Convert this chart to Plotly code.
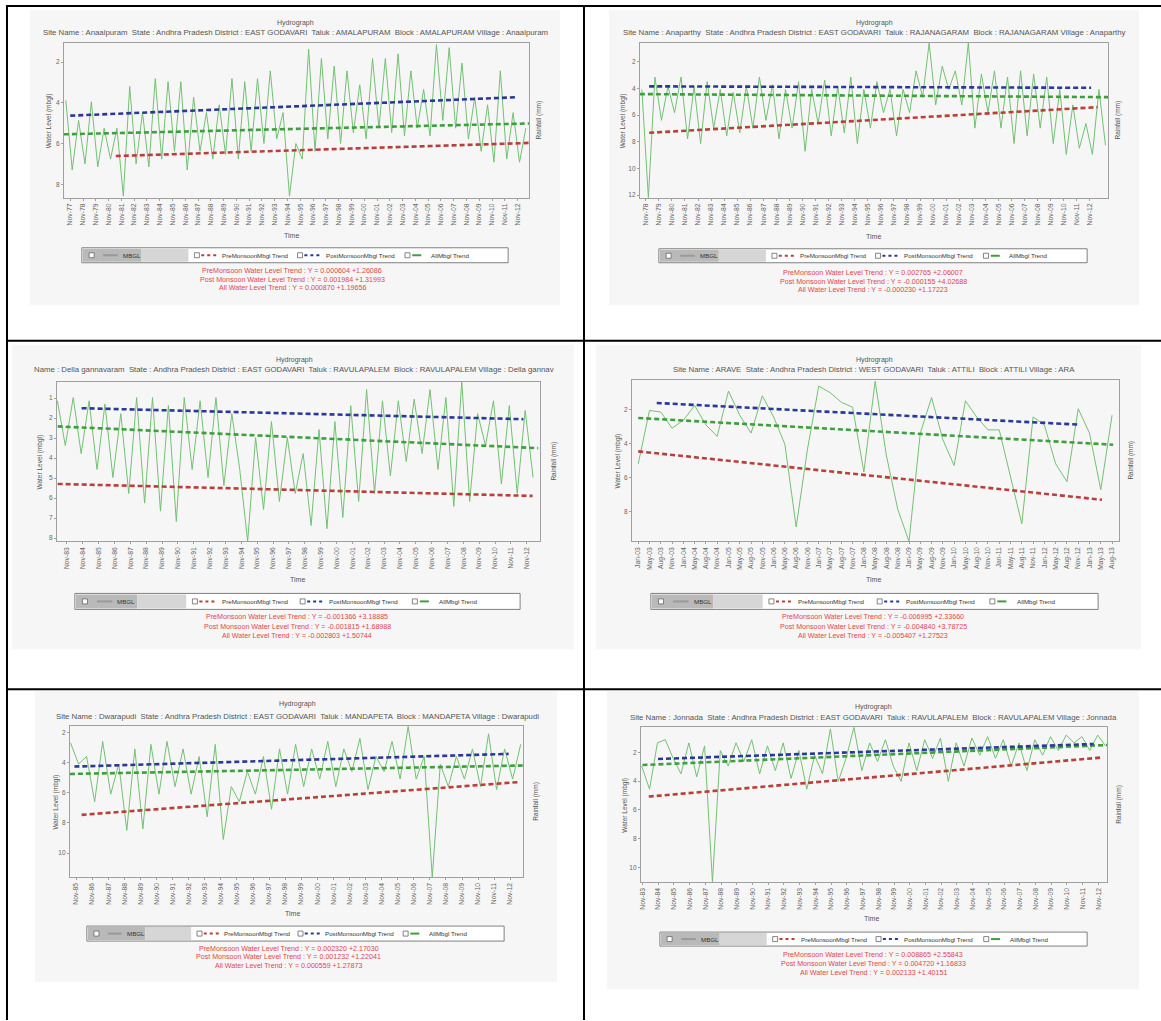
import plotly.graph_objects as go

W, H = 1161, 1021

# ------------------------------------------------------------------ data
p1_ticks = ["Nov-%02d" % (y % 100) for y in range(1977, 2013)]
p1_x0, p1_step = -0.35, 0.5
p1_mbgl = [3.87, 7.27, 4.85, 6.97, 3.94, 7.12, 5.23, 6.74, 5.23, 8.55,
           3.19, 6.97, 4.47, 7.12, 2.81, 6.74, 2.96, 6.36, 2.96, 7.27,
           3.72, 6.36, 4.47, 6.74, 4.09, 6.51, 2.81, 6.74, 2.96, 6.36,
           2.81, 5.98, 2.43, 5.76, 4.47, 8.55, 5.98, 6.74, 1.37, 6.36,
           1.83, 5.76, 2.20, 5.98, 2.43, 5.45, 3.11, 5.76, 1.83, 5.23,
           1.83, 5.45, 1.60, 5.61, 2.43, 5.23, 3.34, 5.61, 1.15, 4.85,
           1.30, 5.23, 2.05, 5.76, 3.72, 6.36, 4.09, 6.89, 2.43, 6.74,
           4.47, 6.89, 5.23]
p1_pre = ([3.56, 35.9], [6.59, 5.95])
p1_post = ([0.0, 34.9], [4.62, 3.72])
p1_all = ([-0.5, 35.9], [5.53, 5.00])

p2_ticks = ["Nov-%02d" % (y % 100) for y in range(1978, 2013)]
p2_x0, p2_step = -0.3, 0.5
p2_mbgl = [4.08, 12.2, 3.15, 6.40, 3.85, 5.82, 3.15, 7.79, 3.85, 8.14,
           3.50, 6.98, 4.08, 7.56, 4.31, 7.33, 3.85, 6.98, 3.15, 6.40,
           3.73, 7.79, 4.08, 6.98, 3.50, 8.72, 4.08, 6.63, 3.38, 7.56,
           3.85, 7.33, 3.15, 8.14, 4.08, 6.98, 3.50, 5.82, 4.08, 7.56,
           4.08, 5.82, 2.69, 4.66, 0.60, 5.24, 2.34, 4.08, 2.69, 5.24,
           0.60, 6.98, 2.92, 5.82, 2.69, 6.98, 3.15, 8.14, 2.69, 7.56,
           2.92, 6.98, 3.15, 8.14, 4.08, 8.95, 5.24, 8.49, 6.63, 8.95,
           4.08, 8.26]
p2_pre = ([0.26, 34.6], [7.33, 5.41])
p2_post = ([0.26, 34.1], [3.85, 3.96])
p2_all = ([-0.45, 35.4], [4.43, 4.66])

p3_ticks = ["Nov-%02d" % (y % 100) for y in range(1983, 2013)]
p3_x0, p3_step = -0.6, 0.5
p3_mbgl = [1.13, 3.37, 0.97, 3.77, 1.13, 4.57, 1.29, 4.97, 1.77, 5.77,
           0.97, 6.25, 0.97, 6.65, 1.37, 7.17, 0.97, 4.57, 1.13, 4.97,
           0.97, 5.37, 1.77, 4.57, 8.17, 2.97, 6.57, 2.17, 6.17, 2.97,
           5.77, 3.77, 7.37, 2.57, 7.53, 2.17, 6.97, 1.37, 6.17, 0.57,
           5.77, 1.13, 4.89, 1.13, 4.17, 1.05, 3.77, 0.57, 4.57, 0.97,
           6.41, 0.17, 6.17, 1.77, 3.37, 1.13, 5.29, 1.37, 5.77, 1.61,
           4.97]
p3_pre = ([-0.58, 29.37], [5.29, 5.89])
p3_post = ([0.93, 28.79], [1.50, 2.05])
p3_all = ([-0.58, 29.72], [2.41, 3.50])

p4_ticks = ["%s-%02d" % (m, y) for y in range(3, 14) for m in ["Jan", "May", "Aug", "Nov"]][:43]
p4_x0, p4_step = 0.0, 1.0
p4_mbgl = [5.17, 2.04, 2.13, 3.08, 2.61, 1.75, 2.89, 3.56, 0.90, 2.32,
           3.37, 1.18, 2.42, 4.03, 8.88, 4.32, 0.61, 0.99, 1.56, 1.85,
           5.65, 0.33, 4.70, 7.83, 9.73, 3.37, 1.28, 3.75, 5.27, 1.47,
           2.42, 3.18, 3.18, 5.93, 8.69, 2.42, 2.89, 5.17, 6.22, 1.94,
           3.37, 6.69, 2.32]
p4_pre = ([0.0, 41.1], [4.44, 7.28])
p4_post = ([1.64, 38.97], [1.60, 2.87])
p4_all = ([0.0, 42.1], [2.48, 4.05])

p5_ticks = ["Nov-%02d" % (y % 100) for y in range(1985, 2013)]
p5_x0, p5_step = -0.35, 0.5
p5_mbgl = [2.7, 4.1, 3.6, 6.6, 2.6, 6.1, 4.1, 8.5, 3.1, 8.4,
           2.8, 6.1, 2.6, 5.6, 3.1, 6.1, 3.6, 7.6, 2.8, 9.1,
           5.6, 6.6, 4.6, 6.1, 3.6, 7.1, 3.1, 6.1, 2.8, 5.6,
           3.1, 5.1, 2.6, 5.6, 3.1, 4.6, 2.4, 5.8, 3.6, 4.6,
           2.6, 5.1, 1.6, 5.1, 3.6, 11.6, 4.1, 5.6, 3.6, 5.1,
           3.1, 5.6, 2.1, 5.8, 3.1, 5.1, 2.8]
p5_pre = ([0.34, 27.5], [7.47, 5.30])
p5_post = ([-0.11, 26.9], [4.27, 3.43])
p5_all = ([-0.39, 27.8], [4.76, 4.20])

p6_ticks = ["Nov-%02d" % (y % 100) for y in range(1983, 2013)]
p6_x0, p6_step = -0.05, 0.5
p6_mbgl = [2.95, 4.56, 1.34, 1.12, 2.41, 3.49, 1.34, 3.70, 1.55, 11.0,
           1.87, 2.95, 1.34, 2.63, 1.12, 3.49, 1.55, 3.27, 1.34, 3.81,
           1.87, 4.56, 2.20, 3.49, 0.37, 4.02, 2.41, 0.26, 3.27, 1.34,
           2.63, 1.12, 2.95, 4.02, 1.34, 3.27, 1.12, 2.41, 1.01, 4.02,
           1.34, 2.95, 1.01, 2.20, 0.91, 2.41, 1.12, 2.95, 1.34, 3.27,
           1.12, 2.20, 0.91, 1.87, 0.80, 1.34, 0.91, 1.87, 0.80, 1.55]
p6_pre = ([0.4, 29.3], [5.07, 2.35])
p6_post = ([0.99, 28.7], [2.46, 1.42])
p6_all = ([0.0, 29.55], [2.88, 1.49])

subtitles = [
    "Site Name : Anaalpuram  State : Andhra Pradesh District : EAST GODAVARI  Taluk : AMALAPURAM  Block : AMALAPURAM Village : Anaalpuram",
    "Site Name : Anaparthy  State : Andhra Pradesh District : EAST GODAVARI  Taluk : RAJANAGARAM  Block : RAJANAGARAM Village : Anaparthy",
    "Name : Della gannavaram  State : Andhra Pradesh District : EAST GODAVARI  Taluk : RAVULAPALEM  Block : RAVULAPALEM Village : Della gannav",
    "Site Name : ARAVE  State : Andhra Pradesh District : WEST GODAVARI  Taluk : ATTILI  Block : ATTILI Village : ARA",
    "Site Name : Dwarapudi  State : Andhra Pradesh District : EAST GODAVARI  Taluk : MANDAPETA  Block : MANDAPETA Village : Dwarapudi",
    "Site Name : Jonnada  State : Andhra Pradesh District : EAST GODAVARI  Taluk : RAVULAPALEM  Block : RAVULAPALEM Village : Jonnada",
]
trend_texts = [
    ["PreMonsoon Water Level Trend : Y = 0.000604 +1.26086", "Post Monsoon Water Level Trend : Y = 0.001984 +1.31993", "All Water Level Trend : Y = 0.000870 +1.19656"],
    ["PreMonsoon Water Level Trend : Y = 0.002765 +2.06007", "Post Monsoon Water Level Trend : Y = -0.000155 +4.02688", "All Water Level Trend : Y = -0.000230 +1.17223"],
    ["PreMonsoon Water Level Trend : Y = -0.001366 +3.18885", "Post Monsoon Water Level Trend : Y = -0.001815 +1.68988", "All Water Level Trend : Y = -0.002803 +1.50744"],
    ["PreMonsoon Water Level Trend : Y = -0.006995 +2.33660", "Post Monsoon Water Level Trend : Y = -0.004840 +3.78725", "All Water Level Trend : Y = -0.005407 +1.27523"],
    ["PreMonsoon Water Level Trend : Y = 0.002320 +2.17030", "Post Monsoon Water Level Trend : Y = 0.001232 +1.22041", "All Water Level Trend : Y = 0.000559 +1.27873"],
    ["PreMonsoon Water Level Trend : Y = 0.008865 +2.55843", "Post Monsoon Water Level Trend : Y = 0.004720 +1.16833", "All Water Level Trend : Y = 0.002133 +1.40151"],
]
legend_labels = ["MBGL", "PreMonsoonMbgl Trend", "PostMonsoonMbgl Trend", "AllMbgl Trend"]

panels = [
    dict(ticks=p1_ticks, x0=p1_x0, step=p1_step, mbgl=p1_mbgl, pre=p1_pre, post=p1_post, allt=p1_all,
         xr=[-0.5, 35.9], yr=[8.63, 1.07], yt=[2, 4, 6, 8]),
    dict(ticks=p2_ticks, x0=p2_x0, step=p2_step, mbgl=p2_mbgl, pre=p2_pre, post=p2_post, allt=p2_all,
         xr=[-0.45, 35.4], yr=[12.2, 0.6], yt=[2, 4, 6, 8, 10, 12]),
    dict(ticks=p3_ticks, x0=p3_x0, step=p3_step, mbgl=p3_mbgl, pre=p3_pre, post=p3_post, allt=p3_all,
         xr=[-0.63, 29.84], yr=[8.17, 0.17], yt=[1, 2, 3, 4, 5, 6, 7, 8]),
    dict(ticks=p4_ticks, x0=p4_x0, step=p4_step, mbgl=p4_mbgl, pre=p4_pre, post=p4_post, allt=p4_all,
         xr=[-0.56, 42.62], yr=[9.73, 0.23], yt=[2, 4, 6, 8]),
    dict(ticks=p5_ticks, x0=p5_x0, step=p5_step, mbgl=p5_mbgl, pre=p5_pre, post=p5_post, allt=p5_all,
         xr=[-0.39, 27.8], yr=[11.6, 1.6], yt=[2, 4, 6, 8, 10]),
    dict(ticks=p6_ticks, x0=p6_x0, step=p6_step, mbgl=p6_mbgl, pre=p6_pre, post=p6_post, allt=p6_all,
         xr=[-0.1, 29.55], yr=[11.01, 0.26], yt=[2, 4, 6, 8, 10]),
]

# ------------------------------------------------------------------ layout geometry (pixels)
geo = [
    dict(plot=(62, 43, 528, 198), bg=(28, 10, 559, 305), cx=294, ty=23, sy=33, timey=236, tx=290,
         leg=(80, 248, 507, 263), red=(271, 280, 288), rcx=291, ylx=47, rlx=538),
    dict(plot=(639, 43, 1108, 198), bg=(608, 10, 1139, 305), cx=874, ty=23, sy=33, timey=237, tx=873,
         leg=(658, 249, 1087, 263), red=(273, 282, 290), rcx=873, ylx=622, rlx=1118),
    dict(plot=(55, 382, 539, 542), bg=(10, 345, 573, 650), cx=293, ty=360, sy=370, timey=580, tx=296,
         leg=(73, 594, 519, 610), red=(618, 628, 637), rcx=296, ylx=38, rlx=552),
    dict(plot=(631, 380, 1119, 542), bg=(595, 345, 1141, 650), cx=874, ty=360, sy=370, timey=580, tx=873,
         leg=(650, 594, 1098, 610), red=(618, 628, 637), rcx=873, ylx=617, rlx=1130),
    dict(plot=(68, 727, 522, 878), bg=(33, 692, 556, 983), cx=296, ty=705, sy=717, timey=914, tx=291,
         leg=(85, 927, 503, 942), red=(950, 958, 967), rcx=287, ylx=54, rlx=535),
    dict(plot=(640, 728, 1107, 883), bg=(606, 692, 1139, 990), cx=873, ty=708, sy=718, timey=919, tx=871,
         leg=(659, 933, 1087, 947), red=(956, 965, 974), rcx=873, ylx=624, rlx=1119),
]

FONT = "Liberation Sans"
C_MBGL = "#72c172"
C_PRE = "#b8403a"
C_POST = "#2a3896"
C_ALL = "#3f9f3f"


def px(x):
    return x / W


def py(y):
    return 1 - y / H


def note(x, y, text, size, color, xanchor="center", angle=0):
    return dict(x=px(x), y=py(y), text=text, showarrow=False, xref="paper", yref="paper",
                xanchor=xanchor, yanchor="middle", textangle=angle,
                font=dict(family=FONT, size=size, color=color))


fig = go.Figure()
shapes = []
annots = []

for i, (p, g) in enumerate(zip(panels, geo), start=1):
    xa, ya = "x%d" % i, "y%d" % i
    bx0, by0, bx1, by1 = g["bg"]
    shapes.append(dict(type="rect", xref="paper", yref="paper", x0=px(bx0), x1=px(bx1),
                       y0=py(by1), y1=py(by0), fillcolor="#f6f6f6", line=dict(width=0), layer="below"))
    xs = [p["x0"] + p["step"] * k for k in range(len(p["mbgl"]))]
    fig.add_trace(go.Scatter(x=xs, y=p["mbgl"], mode="lines", line=dict(color=C_MBGL, width=1),
                             xaxis=xa, yaxis=ya, hoverinfo="skip"))
    for (tx, ty), col in [(p["allt"], C_ALL), (p["post"], C_POST), (p["pre"], C_PRE)]:
        fig.add_trace(go.Scatter(x=tx, y=ty, mode="lines",
                                 line=dict(color=col, width=2.6, dash="5px,3px"),
                                 xaxis=xa, yaxis=ya, hoverinfo="skip"))
    x0, y0, x1, y1 = g["plot"]
    ax_common = dict(showgrid=False, zeroline=False, showline=True, mirror=True,
                     linecolor="#a0a0a0", linewidth=1, ticks="outside", ticklen=2,
                     tickcolor="#a0a0a0")
    fig.layout["xaxis%d" % i] = dict(domain=[px(x0), px(x1)], range=p["xr"], anchor=ya,
                                     tickvals=list(range(len(p["ticks"]))), ticktext=p["ticks"],
                                     tickangle=-90, tickfont=dict(family=FONT, size=6.8, color="#666"),
                                     **ax_common)
    fig.layout["yaxis%d" % i] = dict(domain=[py(y1), py(y0)], range=p["yr"], anchor=xa,
                                     tickvals=p["yt"], ticktext=[str(v) for v in p["yt"]],
                                     tickfont=dict(family=FONT, size=6.5, color="#666"), **ax_common)
    annots.append(note(g["cx"], g["ty"], "Hydrograph", 7, "#555"))
    annots.append(note(g["cx"], g["sy"], subtitles[i - 1], 7.8, "#555"))
    annots.append(note(g["tx"], g["timey"], "Time", 7, "#555"))
    annots.append(note(g["ylx"], (y0 + y1) / 2, "Water Level (mbgl)", 6.5, "#555", angle=-90))
    annots.append(note(g["rlx"], (y0 + y1) / 2, "Rainfall (mm)", 6.5, "#555", angle=-90))
    for line_txt, yy in zip(trend_texts[i - 1], g["red"]):
        annots.append(note(g["rcx"], yy, line_txt, 7.1, "#e0474c"))
    # legend
    lx0, ly0, lx1, ly1 = g["leg"]
    lw = lx1 - lx0
    cy = (ly0 + ly1) / 2
    shapes.append(dict(type="rect", xref="paper", yref="paper", x0=px(lx0), x1=px(lx1),
                       y0=py(ly1), y1=py(ly0), fillcolor="white", line=dict(color="#808080", width=1)))
    shapes.append(dict(type="rect", xref="paper", yref="paper", x0=px(lx0 + 1), x1=px(lx0 + 0.14 * lw),
                       y0=py(ly1 - 1), y1=py(ly0 + 1), fillcolor="#b9b9b9", line=dict(width=0)))
    shapes.append(dict(type="rect", xref="paper", yref="paper", x0=px(lx0 + 0.14 * lw), x1=px(lx0 + 0.25 * lw),
                       y0=py(ly1 - 1), y1=py(ly0 + 1), fillcolor="#d6d6d6", line=dict(width=0)))
    items = [(0.017, 0.043, 0.091, "#9a9a9a", "solid"),
             (0.264, 0.273, 0.325, C_PRE, "dot"),
             (0.506, 0.515, 0.567, C_POST, "dot"),
             (0.758, 0.768, 0.814, C_ALL, "dash")]
    for (fc, fl, ft, col, dsh), lab in zip(items, legend_labels):
        cx0 = lx0 + fc * lw
        shapes.append(dict(type="rect", xref="paper", yref="paper", x0=px(cx0), x1=px(cx0 + 5),
                           y0=py(cy + 2.5), y1=py(cy - 2.5), fillcolor="white",
                           line=dict(color="#666", width=0.8)))
        shapes.append(dict(type="line", xref="paper", yref="paper", x0=px(lx0 + fl * lw + 3),
                           x1=px(lx0 + ft * lw - 3), y0=py(cy), y1=py(cy),
                           line=dict(color=col, width=2, dash=dsh)))
        annots.append(note(lx0 + ft * lw, cy, lab, 6.2, "#333", xanchor="left"))

# table borders
BL = dict(color="black", width=2)
for (a, b, c, d) in [(4, 6, 1161, 6), (5, 6, 5, 1021), (583, 6, 583, 1021),
                     (4, 341, 1161, 341), (4, 690, 1161, 690)]:
    shapes.append(dict(type="line", xref="paper", yref="paper", x0=px(a), y0=py(b), x1=px(c), y1=py(d), line=BL))

fig.update_layout(width=W, height=H, margin=dict(l=0, r=0, t=0, b=0),
                  paper_bgcolor="white", plot_bgcolor="white", showlegend=False,
                  font=dict(family=FONT, size=6, color="#555"),
                  shapes=shapes, annotations=annots)
fig.write_html("out.html")
